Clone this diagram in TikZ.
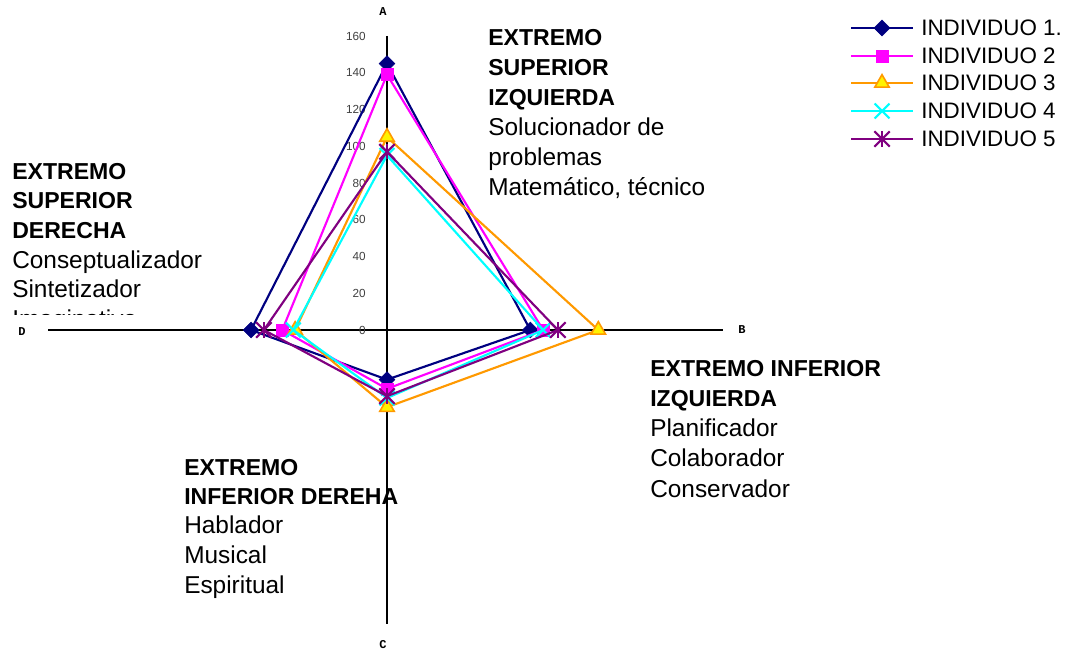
\documentclass[tikz,border=0pt]{standalone}
\usepackage{fontspec}
\setmainfont{Liberation Sans}
\newfontfamily\monob{Liberation Mono}
\usetikzlibrary{shapes.geometric,shapes.misc}
\definecolor{c1}{HTML}{000080}
\definecolor{c2}{HTML}{FF00FF}
\definecolor{c3}{HTML}{FF9900}
\definecolor{c4}{HTML}{00FFFF}
\definecolor{c5}{HTML}{800080}
\definecolor{tickgray}{HTML}{404040}
\begin{document}
\begin{tikzpicture}[x=0.75pt,y=-0.75pt,
  axisline/.style={black,line width=0.8pt},
  ticklbl/.style={anchor=east,text=tickgray,font=\fontsize{8.8}{10}\selectfont,inner sep=0},
  axislbl/.style={font=\monob\bfseries\fontsize{9}{10}\selectfont,inner sep=0},
  series/.style={line width=1.6pt,line join=miter},
  bodytxt/.style={anchor=base west,inner sep=0,font=\fontsize{18.3}{22.5}\selectfont},
  headtxt/.style={anchor=base west,inner sep=0,font=\fontsize{17.3}{22.5}\selectfont\bfseries},
  legtxt/.style={anchor=base west,inner sep=0,font=\fontsize{16.8}{20}\selectfont},
  mk1/.style={diamond,fill=c1,draw=c1,inner sep=0,minimum width=12pt,minimum height=12pt},
  mk2/.style={rectangle,fill=c2,draw=c2,inner sep=0,minimum size=9pt},
  mk3/.style={regular polygon,regular polygon sides=3,fill=yellow,draw=c3,line width=1.2pt,inner sep=0,minimum size=12.5pt},
  mk4/.style={cross out,draw=c4,line width=1.6pt,inner sep=0,minimum size=9.5pt},
  mk5/.style={cross out,draw=c5,line width=1.6pt,inner sep=0,minimum size=10pt},
]
\useasboundingbox (0,0) rectangle (1067,652);

% axes
\coordinate (axT) at (387,36);
\coordinate (axB) at (387,624);
\coordinate (axL) at (48,330);
\coordinate (axR) at (723,330);
\draw[axisline] (axT) -- (axB);
\draw[axisline] (axL) -- (axR);

% tick labels
\foreach \v in {0,20,...,160}
  \node[ticklbl] (t\v) at (366,{330-\v*1.8375}) {\v};

% axis letters
\node[axislbl] (labA) at (383,12) {A};
\node[axislbl] (labB) at (742,330) {B};
\node[axislbl] (labC) at (383,645) {C};
\node[axislbl] (labD) at (22,331.5) {D};

% data
\begin{scope}[shift={(387,330)},x=1.378125pt,y=1.378125pt]
  \coordinate (p1a) at (0,145); \coordinate (p1b) at (78,0); \coordinate (p1c) at (0,-27); \coordinate (p1d) at (-74,0);
  \coordinate (p2a) at (0,139); \coordinate (p2b) at (85,0); \coordinate (p2c) at (0,-32); \coordinate (p2d) at (-57,0);
  \coordinate (p3a) at (0,105); \coordinate (p3b) at (115,0); \coordinate (p3c) at (0,-42); \coordinate (p3d) at (-50,0);
  \coordinate (p4a) at (0,95); \coordinate (p4b) at (85,0); \coordinate (p4c) at (0,-37); \coordinate (p4d) at (-51,0);
  \coordinate (p5a) at (0,97); \coordinate (p5b) at (93,0); \coordinate (p5c) at (0,-36); \coordinate (p5d) at (-67,0);
\end{scope}

\draw[series,c1] (p1a) -- (p1b) -- (p1c) -- (p1d) -- cycle;
\foreach \p in {a,b,c,d} \node[mk1] (m1\p) at (p1\p) {};
\draw[series,c2] (p2a) -- (p2b) -- (p2c) -- (p2d) -- cycle;
\foreach \p in {a,b,c,d} \node[mk2] (m2\p) at (p2\p) {};
\draw[series,c3] (p3a) -- (p3b) -- (p3c) -- (p3d) -- cycle;
\foreach \p in {a,b,c,d} \node[mk3] (m3\p) at (p3\p) {};
\draw[series,c4] (p4a) -- (p4b) -- (p4c) -- (p4d) -- cycle;
\foreach \p in {a,b,c,d} \node[mk4] (m4\p) at (p4\p) {};
\draw[series,c5] (p5a) -- (p5b) -- (p5c) -- (p5d) -- cycle;
\foreach \p in {a,b,c,d} {\node[mk5] (m5\p) at (p5\p) {}; \draw[c5,line width=1.6pt] (m5\p.north) -- (m5\p.south);}

% legend
\coordinate (l1s) at (851,28); \coordinate (l1e) at (913,28);
\coordinate (l2s) at (851,56); \coordinate (l2e) at (913,56);
\coordinate (l3s) at (851,83); \coordinate (l3e) at (913,83);
\coordinate (l4s) at (851,111); \coordinate (l4e) at (913,111);
\coordinate (l5s) at (851,139); \coordinate (l5e) at (913,139);
\draw[series,c1] (l1s) -- (l1e); \node[mk1] (lm1) at (882,28) {};
\draw[series,c2] (l2s) -- (l2e); \node[mk2] (lm2) at (882,56) {};
\draw[series,c3] (l3s) -- (l3e); \node[mk3] (lm3) at (882,83) {};
\draw[series,c4] (l4s) -- (l4e); \node[mk4] (lm4) at (882,111) {};
\draw[series,c5] (l5s) -- (l5e); \node[mk5] (lm5) at (882,139) {}; \draw[c5,line width=1.6pt] (lm5.north) -- (lm5.south);
\node[legtxt] (lt1) at (921,36) {INDIVIDUO 1.};
\node[legtxt] (lt2) at (921,64) {INDIVIDUO 2};
\node[legtxt] (lt3) at (921,91) {INDIVIDUO 3};
\node[legtxt] (lt4) at (921,119) {INDIVIDUO 4};
\node[legtxt] (lt5) at (921,147) {INDIVIDUO 5};

% top right block
\node[headtxt] (sr1) at (488,46) {EXTREMO};
\node[headtxt] (sr2) at (488,76) {SUPERIOR};
\node[headtxt] (sr3) at (488,106) {IZQUIERDA};
\node[bodytxt] (sr4) at (488,136) {Solucionador de};
\node[bodytxt] (sr5) at (488,166) {problemas};
\node[bodytxt] (sr6) at (488,196) {Matemático, técnico};

% left block
\node[headtxt] (sl1) at (12,180) {EXTREMO};
\node[headtxt] (sl2) at (12,209) {SUPERIOR};
\node[headtxt] (sl3) at (12,238.5) {DERECHA};
\node[bodytxt] (sl4) at (12,268) {Conseptualizador};
\node[bodytxt] (sl5) at (12,297.5) {Sintetizador};
\begin{scope}
  \clip (0,300) rectangle (320,314.5);
  \node[bodytxt,text height=13pt,text depth=-9.5pt] (sl6) at (12,327) {Imaginativo};
\end{scope}

% lower right block
\node[headtxt] (ir1) at (650,376) {EXTREMO INFERIOR};
\node[headtxt] (ir2) at (650,406) {IZQUIERDA};
\node[bodytxt] (ir3) at (650,436) {Planificador};
\node[bodytxt] (ir4) at (650,466) {Colaborador};
\node[bodytxt] (ir5) at (650,497) {Conservador};

% lower left block
\node[headtxt] (il1) at (184,475) {EXTREMO};
\node[headtxt] (il2) at (184,504) {INFERIOR DEREHA};
\node[bodytxt] (il3) at (184,533) {Hablador};
\node[bodytxt] (il4) at (184,563) {Musical};
\node[bodytxt] (il5) at (184,593) {Espiritual};
\end{tikzpicture}
\end{document}
